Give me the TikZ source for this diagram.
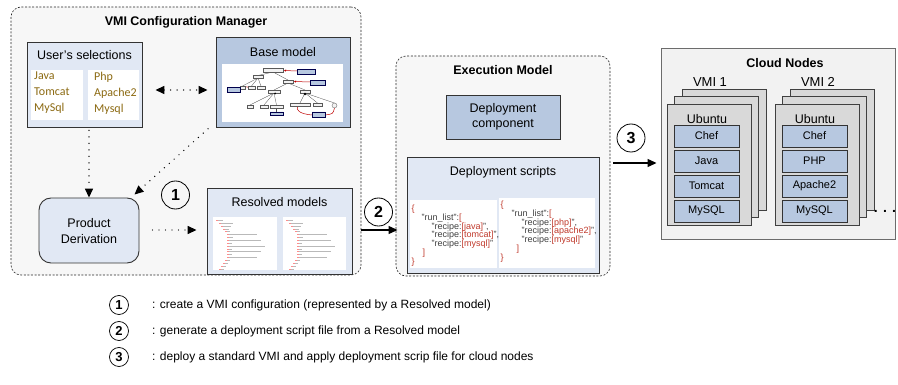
\documentclass[tikz,border=0pt]{standalone}
\usepackage{fontspec}
\setmainfont{Liberation Sans}
\newfontfamily\carlfont{Carlito}
\usetikzlibrary{arrows.meta,calc}
\definecolor{lightblue}{HTML}{E1E8F4}
\definecolor{steelblue}{HTML}{B7C8E0}
\definecolor{cfgfill}{HTML}{F7F7F7}
\definecolor{sheetgray}{HTML}{D9D9D9}
\definecolor{cloudfill}{HTML}{F2F2F2}
\definecolor{selbrown}{HTML}{8C6A12}
\definecolor{codered}{HTML}{C0392B}
\definecolor{codegray}{HTML}{404040}
\newcommand\fs[1]{\fontsize{#1}{#1}\selectfont}
\newcommand\cbr[1]{\textcolor{codered}{#1}}
\begin{document}
\begin{tikzpicture}[x=1pt,y=-1pt,
 >={Triangle[width=8pt,length=9pt]},
 groupbox/.style={draw=black!85, dash pattern=on 2pt off 1.6pt, rounded corners=10pt, fill=cfgfill, line width=0.6pt},
 lbox/.style={draw=black!80, line width=0.9pt, fill=lightblue},
 sbox/.style={draw=black!80, line width=0.9pt, fill=steelblue},
 pane/.style={fill=white, draw=none, inner sep=0pt},
 lbl/.style={inner sep=0pt, font=\fs{12.5}},
 ttl/.style={inner sep=0pt, font=\bfseries\fs{12.5}},
 num/.style={circle, draw=black, line width=0.8pt, minimum size=28pt, inner sep=0pt, font=\bfseries\fs{16}},
 lnum/.style={circle, draw=black, line width=0.7pt, minimum size=19pt, inner sep=0pt, font=\bfseries\fs{13}},
 legtxt/.style={anchor=west, inner sep=0pt, font=\fs{12}},
 dotline/.style={line width=1.4pt, line cap=round, dash pattern=on 0pt off 6.5pt},
 solidarrow/.style={line width=1.2pt, ->},
 sheet/.style={draw=black!75, fill=sheetgray, line width=0.8pt, minimum width=84pt, minimum height=121pt, inner sep=0pt},
 layer/.style={draw=black!80, fill=steelblue, line width=0.8pt, minimum width=65pt, minimum height=22pt, inner sep=0pt, font=\fs{11}},
 tb/.style={draw=gray!70!black, fill=gray!10, line width=0.3pt},
 bb/.style={draw=blue!30!black, fill=steelblue, line width=0.3pt},
 rl/.style={draw=red!75!black, line width=0.5pt},
 gl/.style={draw=gray!60!black, line width=0.3pt},
 code/.style={anchor=north west, inner sep=0pt, align=left, text=codegray, font=\fontsize{9}{8.9}\selectfont}
]
\useasboundingbox (0,0) rectangle (898,385);

% ---------- VMI Configuration Manager ----------
\node[groupbox, minimum width=350pt, minimum height=268pt] (cfg) at (186,141) {};
\node[ttl] (cfgt) at (186,22) {VMI Configuration Manager};

\node[lbox, minimum width=115pt, minimum height=85pt] (usel) at (84.5,84.5) {};
\node[lbl] (uselt) at (84.5,55) {User’s selections};
\node[pane, minimum width=52pt, minimum height=50pt] (usl) at (57,95) {};
\node[pane, minimum width=51pt, minimum height=50pt] (usr) at (113.5,95) {};
\node[anchor=west, inner sep=0pt, align=left, text=selbrown, font=\carlfont\fontsize{12}{16}\selectfont] (uslx) at (34,93) {Java\\Tomcat\\MySql};
\node[anchor=west, inner sep=0pt, align=left, text=selbrown, font=\carlfont\fontsize{12}{16}\selectfont] (usrx) at (94,93) {Php\\Apache2\\Mysql};

\node[sbox, minimum width=134pt, minimum height=90pt] (base) at (283,82) {};
\node[lbl] (baset) at (283,52) {Base model};
\node[pane, minimum width=121pt, minimum height=58pt] (basep) at (282.5,93) {};
% feature-model thumbnail
\draw[gl] (273,72) -- (258,75.5) (273,72) -- (288,80);
\draw[gl] (258,78) -- (242.5,86) (258,78) -- (251.5,86) (258,78) -- (261,86);
\draw[gl] (288,83) -- (274,90) (288,83) -- (305,90);
\draw[gl] (274,93) -- (250,105) (274,93) -- (264,105) (274,93) -- (276.5,105);
\draw[gl] (305,93) -- (300,103) (305,93) -- (317.5,103) (305,93) -- (334.5,103);
\draw[gl] (276.5,108) -- (276.5,112);
\draw[rl,->,>={Triangle[width=2pt,length=2pt]}] (297,71) -- (284,70.5);
\draw[rl,->,>={Triangle[width=2pt,length=2pt]}] (310,82) -- (294,81.5);
\draw[rl] (240,89.5) .. controls (245,86) .. (250,88);
\draw[rl] (312,115) .. controls (300,114) and (295,110) .. (298,106);
\draw[rl] (325,115) .. controls (333,114) .. (334.5,108);
\draw[tb] (263,68) rectangle (283,72);
\draw[bb] (297,69) rectangle (315,74);
\draw[tb] (253,75) rectangle (263,78.5);
\draw[tb] (283,80) rectangle (293,83);
\draw[bb] (310,80) rectangle (325,85);
\draw[tb] (240,86) rectangle (245,89) (248,86) rectangle (255,89) (257,86) rectangle (265,89);
\draw[bb] (227,87) rectangle (240,92);
\draw[tb] (268,90) rectangle (280,93) (300,90) rectangle (310,93);
\draw[tb] (247,105) rectangle (253,108) (260,105) rectangle (268,108) (270,105) rectangle (283,108);
\draw[tb] (290,103) rectangle (310,106) (313,103) rectangle (322,106);
\draw[tb] (334.5,105.5) circle (2.5);
\draw[bb] (270,112) rectangle (283,115) (312,112) rectangle (325,117);
\fill (275,93.5) circle (1) (305,94) circle (1.3);

\node[lbox, rounded corners=12pt, minimum width=100pt, minimum height=65pt] (pd) at (89,230.5) {};
\node[lbl, align=center, font=\fontsize{12.5}{16}\selectfont] (pdt) at (89,231) {Product\\Derivation};

\node[lbox, minimum width=145pt, minimum height=86pt] (res) at (279.5,231) {};
\node[lbl] (rest) at (279.5,202) {Resolved models};
\node[pane, minimum width=64pt, minimum height=53pt] (resl) at (245,243.5) {};
\node[pane, minimum width=63pt, minimum height=53pt] (resr) at (314.5,243.5) {};
\foreach \ox in {216,286}{
 \foreach \ind/\len [count=\i] in {0/7,3/14,5/10,7/6,9/5,11/30,11/6,11/34,11/5,11/38,11/5,11/34,11/5,11/30,9/5,7/5,5/5,3/5}{
  \draw[gray!55, line width=0.55pt] ({\ox+\ind},{217.5+\i*2.85}) -- ++(\len,0);
  \draw[red!45, line width=0.55pt] ({\ox+\ind},{217.5+\i*2.85}) -- ++(2,0);
 }
}

\node[num] (c1) at (175.5,195) {1};

% ---------- Execution Model ----------
\node[groupbox, minimum width=214pt, minimum height=220pt] (exe) at (503,166) {};
\node[ttl] (exet) at (503,70) {Execution Model};
\node[sbox, minimum width=114pt, minimum height=44pt] (dc) at (503,117) {};
\node[lbl, align=center, font=\fontsize{12.5}{15.5}\selectfont] (dct) at (503,117) {Deployment\\component};
\node[lbox, minimum width=192pt, minimum height=116pt] (ds) at (503,215) {};
\node[lbl] (dst) at (503,172) {Deployment scripts};
\node[pane, minimum width=87pt, minimum height=68pt] (dsl) at (453.5,234) {};
\node[pane, minimum width=96pt, minimum height=70pt] (dsr) at (547,233) {};
\node[code] (codel) at (411.5,204.5) {\cbr{\{}\\
\hspace*{10pt}"run\_list":\cbr{[}\\
\hspace*{20pt}"recipe:\cbr{[java]}",\\
\hspace*{20pt}"recipe:\cbr{[tomcat]}",\\
\hspace*{20pt}"recipe:\cbr{[mysql]}"\\
\hspace*{11pt}\cbr{]}\\
\cbr{\}}};
\node[code] (coder) at (500.5,200.5) {\cbr{\{}\\
\hspace*{11pt}"run\_list":\cbr{[}\\
\hspace*{21pt}"recipe:\cbr{[php]}",\\
\hspace*{21pt}"recipe:\cbr{[apache2]}",\\
\hspace*{21pt}"recipe:\cbr{[mysql]}"\\
\hspace*{16pt}\cbr{]}\\
\cbr{\}}};

\node[num] (c2) at (378.5,212) {2};
\node[num] (c3) at (631,138) {3};

% ---------- Cloud Nodes ----------
\node[draw=gray!85!black, fill=cloudfill, line width=0.9pt, minimum width=234pt, minimum height=191pt] (cloud) at (778,143.5) {};
\node[ttl] (cloudt) at (785,63) {Cloud Nodes};
\node[lbl, font=\fs{13}] (vmi1t) at (710,82) {VMI 1};
\node[lbl, font=\fs{13}] (vmi2t) at (818,82) {VMI 2};

\node[sheet] (v1c) at (724,149.5) {};
\node[sheet] (v1b) at (716.5,157) {};
\node[sheet] (v1a) at (709,164.5) {};
\node[lbl] (v1u) at (707,119) {Ubuntu};
\node[layer] (v1l1) at (706.5,136) {Chef};
\node[layer] (v1l2) at (706.5,161) {Java};
\node[layer] (v1l3) at (706.5,186) {Tomcat};
\node[layer] (v1l4) at (706.5,211) {MySQL};

\node[sheet] (v2c) at (832,149.5) {};
\node[sheet] (v2b) at (824.5,157) {};
\node[sheet] (v2a) at (817,164.5) {};
\node[lbl] (v2u) at (815,119) {Ubuntu};
\node[layer] (v2l1) at (814.5,136) {Chef};
\node[layer] (v2l2) at (814.5,161) {PHP};
\node[layer] (v2l3) at (814.5,186) {Apache2};
\node[layer] (v2l4) at (814.5,211) {MySQL};

\node[lbl, font=\bfseries\fs{14}] (dots) at (885,211) {. . .};

% ---------- connectors ----------
\draw[dotline, <->, shorten <=13pt, shorten >=8pt] (usel.east |- 0,90) -- (base.west |- 0,90);
\draw[dotline, ->, shorten <=3pt] (pd.north |- usel.south) -- (pd.north);
\draw[dotline, ->, shorten <=2pt] ([xshift=-6pt]base.south west) -- ([xshift=-5pt,yshift=3pt]pd.north east);
\draw[dotline, ->, shorten <=13pt, shorten >=10pt] (pd.east |- 0,230) -- (res.west |- 0,230);
\draw[solidarrow, shorten <=9pt, shorten >=9pt] (res.east |- 0,230) -- (ds.west |- 0,230);
\draw[solidarrow, shorten <=3pt, shorten >=4pt] (exe.east |- 0,163) -- (cloud.west |- 0,163);

% ---------- legend ----------
\node[lnum] (l1) at (119,305) {1};
\node[lnum] (l2) at (119,331) {2};
\node[lnum] (l3) at (119,357) {3};
\node[legtxt] (l1t) at (152,305) {: create a VMI configuration (represented by a Resolved model)};
\node[legtxt] (l2t) at (152,331) {: generate a deployment script file from a Resolved model};
\node[legtxt] (l3t) at (152,357) {: deploy a standard VMI and apply deployment scrip file for cloud nodes};
\end{tikzpicture}
\end{document}
